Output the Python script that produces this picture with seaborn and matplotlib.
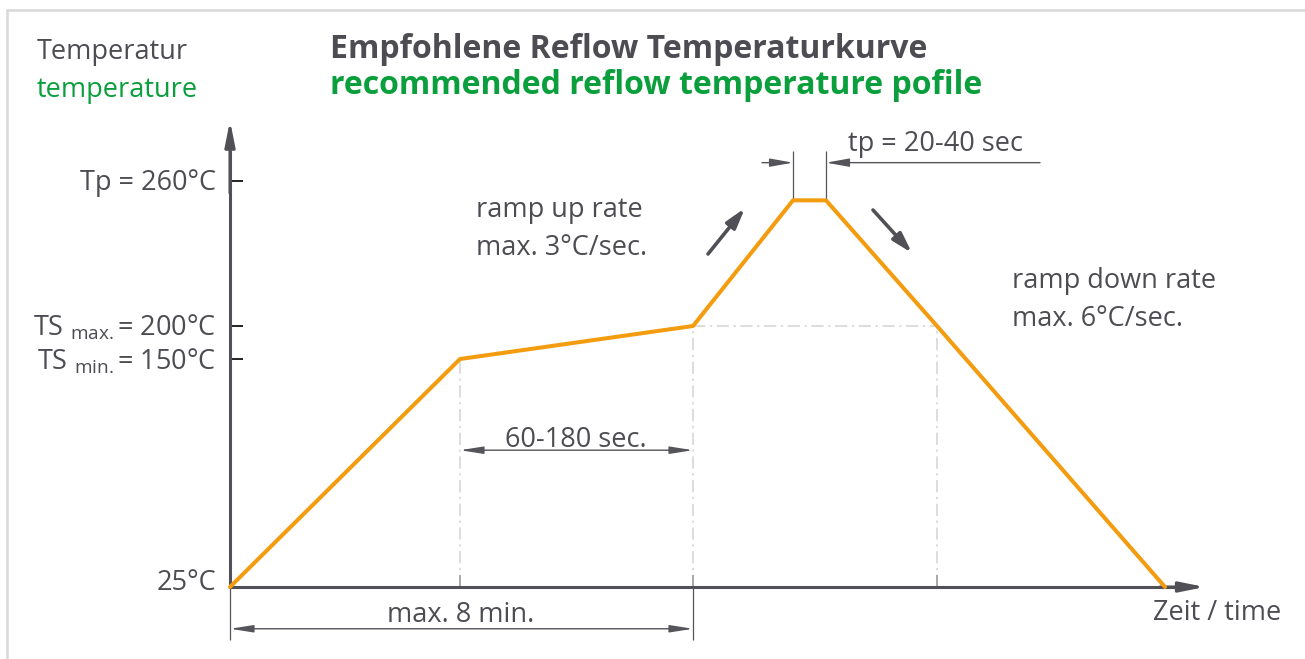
import numpy as np
import pandas as pd
import matplotlib
matplotlib.use("Agg")
import matplotlib.pyplot as plt
import seaborn as sns
from matplotlib.lines import Line2D

# reflow profile (schematic time axis, temperature in °C)
time_s = [0, 230, 463, 563, 596, 707, 935]
temp_c = [25, 150, 200, 252, 252, 200, 25]

temp_ticks = [150, 200, 260]
time_ticks = [230, 463, 707]
temp_labels = ["TS $_{\\mathrm{min.}}$= 150°C", "TS $_{\\mathrm{max.}}$= 200°C", "Tp = 260°C"]

# the drawing is schematic: temperature axis is not linear
scale_temp = [-100, 25, 150, 200, 260, 400]
scale_pos = [-228, 0, 228, 261, 406, 744]

def fwd(v):
    return np.interp(v, scale_temp, scale_pos)

def inv(v):
    return np.interp(v, scale_pos, scale_temp)

dark = "#4d4c52"
axis_c = "#515056"
green = "#0a9f3c"
orange = "#f39c0f"
guide = "#d3d3d3"

sns.set_style("white")
plt.rcParams["font.family"] = ["Open Sans", "DejaVu Sans"]
plt.rcParams["mathtext.fontset"] = "custom"
plt.rcParams["mathtext.rm"] = "Open Sans"
plt.rcParams["mathtext.it"] = "Open Sans:italic"
fs = 19.5
fs_title = 23

W, H = 1305, 659
fig = plt.figure(figsize=(W / 100, H / 100), dpi=100)
ax = fig.add_axes([0, 0, 1, 1])

df = pd.DataFrame({"time": time_s, "temp": temp_c})
sns.lineplot(data=df, x="time", y="temp", ax=ax, color=orange, lw=2.9,
             sort=False, estimator=None, zorder=5)

ax.set_yscale("function", functions=(fwd, inv))
ax.set_xlim(-230, W - 230)
ax.set_ylim(inv(-72), inv(587))
ax.set_xlabel("")
ax.set_ylabel("")

# axes with arrows
for s in ["top", "right"]:
    ax.spines[s].set_visible(False)
ax.spines["left"].set_position(("data", 0))
ax.spines["bottom"].set_position(("data", 25))
ax.spines["left"].set_bounds(25, 272)
ax.spines["bottom"].set_bounds(0, 960)
for s in ["left", "bottom"]:
    ax.spines[s].set_color(axis_c)
    ax.spines[s].set_linewidth(2.2)
arrow_axis = dict(arrowstyle="-|>,head_length=1.5,head_width=0.3", lw=2.2,
                  color=axis_c, shrinkA=0, shrinkB=0, mutation_scale=10)
ax.annotate("", xy=(0, 285), xytext=(0, 255), arrowprops=arrow_axis)
ax.annotate("", xy=(975, 25), xytext=(930, 25), arrowprops=arrow_axis)

ax.set_yticks(temp_ticks)
ax.set_xticks(time_ticks)
ax.tick_params(axis="both", direction="in", width=1.4, color="#222222",
               left=True, bottom=True, labelleft=False, labelbottom=False)
ax.tick_params(axis="y", length=9.5)
ax.tick_params(axis="x", length=8.5)
ax.grid(False)

# guide lines
gkw = dict(color=guide, lw=1.1, linestyles=(0, (8, 3, 1.5, 3)), zorder=1)
ax.vlines([time_s[1]], 25, temp_c[1], **gkw)
ax.vlines([time_s[2], time_s[5]], 25, temp_c[2], **gkw)
ax.hlines(temp_c[2], time_s[2], time_s[5], **gkw)

# dimension lines
dim = "#55545a"
dim_arrow = dict(arrowstyle="<|-|>,head_length=1.4,head_width=0.22", lw=1.0,
                 color=dim, shrinkA=0, shrinkB=0, mutation_scale=10)
ax.annotate("", xy=(time_s[1], 100), xytext=(time_s[2], 100), arrowprops=dim_arrow)
ax.vlines([0, time_s[2]], -4, 25, color=dim, lw=0.9)
ax.annotate("", xy=(0, 2.1), xytext=(time_s[2], 2.1), arrowprops=dim_arrow)

ax.vlines([time_s[3], time_s[4]], temp_c[3], 272.5, color=dim, lw=0.9)
one_arrow = dict(dim_arrow, arrowstyle="-|>,head_length=1.4,head_width=0.25")
ax.annotate("", xy=(time_s[3], 267.6), xytext=(532, 267.6), arrowprops=one_arrow)
ax.annotate("", xy=(time_s[4], 267.6), xytext=(810, 267.6), arrowprops=one_arrow)

# ramp arrows
ramp_arrow = dict(arrowstyle="-|>,head_length=1.2,head_width=0.35", lw=2.6,
                  color=axis_c, shrinkA=0, shrinkB=0, mutation_scale=10)
ax.annotate("", xy=(515, 248.8), xytext=(478, 229.8), arrowprops=ramp_arrow)
ax.annotate("", xy=(682, 230.2), xytext=(643, 248.0), arrowprops=ramp_arrow)

# frame
fig.add_artist(Line2D([7 / W, 1], [1 - 10 / H] * 2, transform=fig.transFigure,
                      color="#d8d8d8", lw=1.8))
fig.add_artist(Line2D([7 / W] * 2, [0, 1 - 10 / H], transform=fig.transFigure,
                      color="#d8d8d8", lw=1.8))

def txt(x, y, s, **kw):
    kw.setdefault("color", dark)
    kw.setdefault("fontsize", fs)
    kw.setdefault("va", "baseline")
    fig.text(x / W, 1 - y / H, s, **kw)

txt(37, 59, "Temperatur")
txt(37, 96.5, "temperature", color=green)
txt(330, 58, "Empfohlene Reflow Temperaturkurve", fontweight="bold", fontsize=fs_title)
txt(330, 94, "recommended reflow temperature pofile", color=green,
    fontweight="bold", fontsize=fs_title)

txt(216, 190, temp_labels[2], ha="right")
txt(216, 335, temp_labels[1], ha="right")
txt(216, 370, temp_labels[0], ha="right")
txt(216, 590, "25°C", ha="right")

txt(1153, 620, "Zeit / time")
txt(476, 216.7, "ramp up rate")
txt(476, 254.7, "max. 3°C/sec.")
txt(1012, 288, "ramp down rate")
txt(1012, 326, "max. 6°C/sec.")
txt(848, 151, "tp = 20-40 sec")
txt(576, 446.7, "60-180 sec.", ha="center")
txt(461, 622, "max. 8 min.", ha="center")

fig.savefig("out.png", dpi=100)
